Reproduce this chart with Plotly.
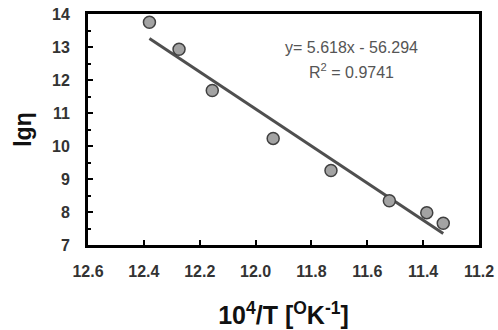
import plotly.graph_objects as go

# Data
inv_T = [12.38, 12.274, 12.155, 11.937, 11.73, 11.521, 11.387, 11.328]
lg_eta = [13.75, 12.93, 11.68, 10.23, 9.26, 8.34, 7.98, 7.66]
slope = 5.618
intercept = -56.294
r2 = 0.9741
x_ticks = [12.6, 12.4, 12.2, 12.0, 11.8, 11.6, 11.4, 11.2]
y_ticks = [7, 8, 9, 10, 11, 12, 13, 14]

x_fit = [max(inv_T), min(inv_T)]
y_fit = [slope * v + intercept for v in x_fit]

fig = go.Figure()
fig.add_trace(go.Scatter(
    x=x_fit, y=y_fit, mode="lines",
    line=dict(color="#4f4f4f", width=3), showlegend=False, hoverinfo="skip"))
fig.add_trace(go.Scatter(
    x=inv_T, y=lg_eta, mode="markers",
    marker=dict(size=12, color="#a3a3a3", line=dict(color="#404040", width=1.5)),
    showlegend=False))

ann_font = dict(family="Arial", size=16, color="#555555")
fig.add_annotation(
    x=0.673, y=0.855, xref="paper", yref="paper", showarrow=False,
    xanchor="center", yanchor="middle",
    text=f"y= {slope}x - {abs(intercept)}", font=ann_font)
fig.add_annotation(
    x=0.673, y=0.752, xref="paper", yref="paper", showarrow=False,
    xanchor="center", yanchor="middle",
    text=f"R<sup>2</sup> = {r2}", font=ann_font)

axis_common = dict(
    showline=True, linecolor="black", linewidth=3, mirror=True,
    showgrid=False, zeroline=False, ticks="inside", tickcolor="black",
    tickwidth=2, ticklen=5, automargin=False,
    tickfont=dict(family="Arial", size=16, color="#333333"))

fig.update_xaxes(range=[12.6, 11.2], tickmode="array", tickvals=x_ticks,
                 ticktext=[f"<b>{v:.1f}</b>" for v in x_ticks],
                 ticklabelstandoff=10,
                 title=dict(text="<b>10<sup>4</sup>/T [<sup>O</sup>K<sup>-1</sup>]</b>",
                            font=dict(family="Arial", size=25, color="#111111"),
                            standoff=28),
                 **axis_common)
fig.update_yaxes(range=[7, 14], tickmode="array", tickvals=y_ticks,
                 ticktext=[f"<b>{v}</b>" for v in y_ticks],
                 ticklabelstandoff=12,
                 minor=dict(dtick=0.5, ticks="inside", ticklen=3, tickwidth=2, tickcolor="black"),
                 title=dict(text="<b>lgη</b>",
                            font=dict(family="Arial", size=23, color="#111111"),
                            standoff=14),
                 **axis_common)

fig.update_layout(
    width=498, height=330,
    margin=dict(l=88, r=19, t=14, b=85),
    plot_bgcolor="white", paper_bgcolor="white")

fig.write_html("out.html")
